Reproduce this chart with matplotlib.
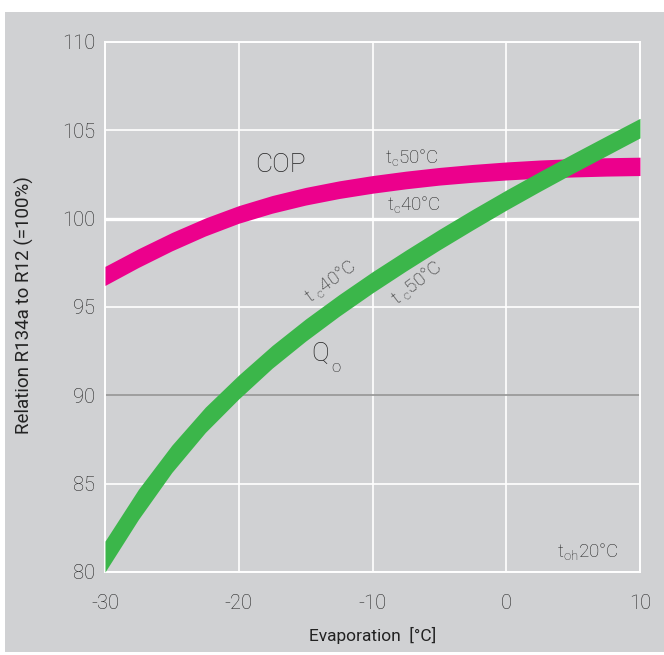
import matplotlib
matplotlib.use("Agg")
import matplotlib.pyplot as plt
from matplotlib.patches import Rectangle
from matplotlib import font_manager

# ---------------- data ----------------
evap = [-30, -27.5, -25, -22.5, -20, -17.5, -15, -12.5, -10, -7.5, -5, -2.5, 0, 2.5, 5, 7.5, 10]
cop_tc50 = [97.3, 98.3, 99.22, 100.04, 100.74, 101.31, 101.77, 102.14, 102.44, 102.69, 102.9,
            103.07, 103.21, 103.32, 103.4, 103.45, 103.48]
cop_tc40 = [96.22, 97.24, 98.18, 99.02, 99.74, 100.31, 100.77, 101.14, 101.44, 101.69, 101.9,
            102.06, 102.19, 102.29, 102.36, 102.41, 102.44]
q0_tc40 = [81.75, 84.68, 87.18, 89.33, 91.15, 92.82, 94.32, 95.7, 97.0, 98.22, 99.4, 100.53,
           101.62, 102.67, 103.69, 104.69, 105.68]
q0_tc50 = [80.0, 82.98, 85.64, 87.9, 89.8, 91.54, 93.07, 94.48, 95.8, 97.04, 98.23, 99.37,
           100.48, 101.54, 102.57, 103.57, 104.57]
xticks = [-30, -20, -10, 0, 10]
xticklabels = ["-30", "-20", "-10", "0", "10"]
yticks = [80, 85, 90, 95, 100, 105, 110]
yticklabels = ["80", "85", "90", "95", "100", "105", "110"]

# ---------------- fonts ----------------
avail = {f.name for f in font_manager.fontManager.ttflist}
prefs = ["Roboto", "Liberation Sans", "DejaVu Sans"]
fam = [f for f in prefs if f in avail] or ["DejaVu Sans"]
plt.rcParams["font.family"] = fam + ["DejaVu Sans"]
plt.rcParams["font.weight"] = "light"
plt.rcParams["mathtext.fontset"] = "custom"
plt.rcParams["mathtext.rm"] = fam[0] + ":weight=light"
plt.rcParams["mathtext.it"] = fam[0] + ":weight=light"

BG = "#d0d1d3"
PINK = "#ec008c"
GREEN = "#3bb64a"
TXT = "#222222"

W, H = 664, 655
fig = plt.figure(figsize=(W / 100, H / 100), dpi=100, facecolor="white")
fig.patches.append(Rectangle((5 / W, 3 / H), (W - 5) / W, (652 - 12) / H,
                             transform=fig.transFigure, facecolor=BG, edgecolor="none", zorder=-10))

ax = fig.add_axes([105 / W, 1 - 572 / H, 535 / W, 530 / H])
ax.set_zorder(1)
ax.set_facecolor(BG)
ax.set_xlim(-30, 10)
ax.set_ylim(80, 110)

ax.set_xticks(xticks)
ax.set_xticklabels(xticklabels)
ax.set_yticks(yticks)
ax.set_yticklabels(yticklabels)
ax.tick_params(axis="both", length=0, labelsize=14.5, colors=TXT)
ax.tick_params(axis="x", pad=16)
ax.tick_params(axis="y", pad=7)

ax.grid(True, color="white", linewidth=1.2, zorder=1)
ax.set_axisbelow(True)
for val, gl in zip(yticks, ax.get_ygridlines()):
    if val == 90:
        gl.set_color("#9a9a9a")
        gl.set_linewidth(1.3)
    elif val == 100:
        gl.set_linewidth(2.4)
for sp in ax.spines.values():
    sp.set_color("white")
    sp.set_linewidth(1.4)

ax.fill_between(evap, cop_tc40, cop_tc50, color=PINK, linewidth=0, zorder=3)
ax.fill_between(evap, q0_tc50, q0_tc40, color=GREEN, linewidth=0, zorder=4)

ax.set_xlabel("Evaporation  [°C]", fontsize=12.5, color=TXT)
ax.xaxis.set_label_coords(0.5, -0.104)
ax.set_ylabel("Relation R134a to R12 (=100%)", fontsize=13.5, color=TXT)
ax.yaxis.set_label_coords(-0.132, 0.503)

ax.text(-18.75, 102.64, "COP", fontsize=19, color=TXT, ha="left", va="baseline")
ax.text(-14.6, 92.34, "Q", fontsize=19, color=TXT, ha="left", va="center")
ax.text(-13.05, 91.55, "o", fontsize=12, color=TXT, ha="left", va="center")
ax.text(-9.07, 103.15, r"t$_\mathrm{c}$50°C", fontsize=13.5, color=TXT, ha="left", va="baseline")
ax.text(-8.9, 100.49, r"t$_\mathrm{c}$40°C", fontsize=13.5, color=TXT, ha="left", va="baseline")
ax.text(-13.18, 96.45, r"t $_\mathrm{c}$40°C", fontsize=13.5, color=TXT, ha="center", va="center", rotation=36)
ax.text(-6.67, 96.36, r"t $_\mathrm{c}$50°C", fontsize=13.5, color=TXT, ha="center", va="center", rotation=38)
ax.text(3.8, 80.85, r"t$_\mathrm{oh}$20°C", fontsize=13.5, color=TXT, ha="left", va="baseline")

fig.savefig("out.png", dpi=100, facecolor="white")
